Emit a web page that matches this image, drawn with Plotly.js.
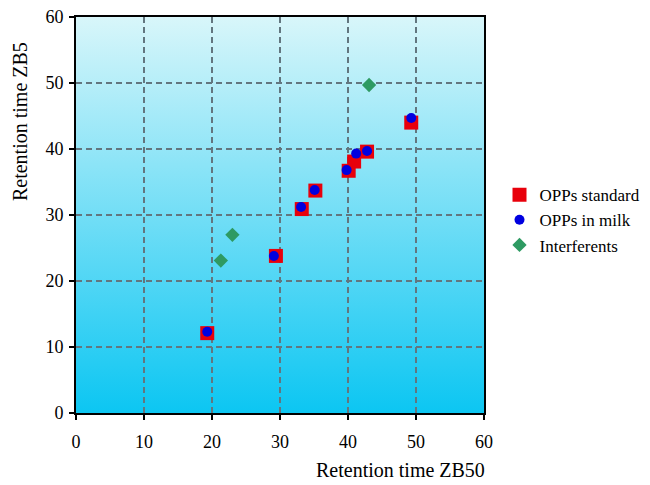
<!DOCTYPE html>
<html>
<head>
<meta charset="utf-8">
<script src="https://cdn.plot.ly/plotly-3.0.1.min.js"></script>
<style>html,body{margin:0;padding:0;background:#fff;}#chart{width:650px;height:485px;}</style>
</head>
<body>
<div id="chart"></div>
<script>
// OPPs standard
const stdX = [19.3, 29.4, 33.2, 35.2, 40.1, 40.9, 42.8, 49.3];
const stdY = [12.1, 23.8, 30.9, 33.7, 36.7, 38.1, 39.6, 44.0];
// OPPs in milk
const milkX = [19.3, 29.1, 33.1, 35.1, 39.8, 41.2, 42.8, 49.3];
const milkY = [12.3, 23.8, 31.2, 33.8, 36.8, 39.3, 39.7, 44.7];
// Interferents
const intX = [21.3, 23.0, 43.1];
const intY = [23.1, 27.0, 49.7];

const tickVals = [0, 10, 20, 30, 40, 50, 60];

const font = {family: '"Liberation Serif", "Times New Roman", serif', color: '#000'};

const gradSvg = '<svg xmlns="http://www.w3.org/2000/svg" width="100" height="100" preserveAspectRatio="none">' +
  '<defs><linearGradient id="g" x1="0" y1="0" x2="0" y2="1">' +
  '<stop offset="0" stop-color="#d8f6fa"/><stop offset="1" stop-color="#0cc6f2"/>' +
  '</linearGradient></defs><rect width="100" height="100" fill="url(#g)"/></svg>';
const gradUri = 'data:image/svg+xml;base64,' + btoa(gradSvg);

const traces = [
  {x: stdX, y: stdY, type: 'scatter', mode: 'markers', name: 'OPPs standard',
   marker: {symbol: 'square', size: 14, color: '#e8000b', line: {width: 0}}},
  {x: milkX, y: milkY, type: 'scatter', mode: 'markers', name: 'OPPs in milk',
   marker: {symbol: 'circle', size: 10, color: '#0000e0', line: {width: 0}}},
  {x: intX, y: intY, type: 'scatter', mode: 'markers', name: 'Interferents',
   marker: {symbol: 'diamond', size: 11, color: '#2e9a62', line: {width: 0}}}
];

const axisCommon = {
  range: [0, 60], tickvals: tickVals, ticktext: tickVals.map(String),
  showgrid: true, gridcolor: '#62767f', griddash: '6px,4px', gridwidth: 1.5,
  showline: true, linecolor: '#000', linewidth: 2, mirror: true,
  ticks: 'outside', ticklen: 5, tickwidth: 2, tickcolor: '#000',
  zeroline: false, fixedrange: true,
  tickfont: Object.assign({size: 18}, font)
};

const layout = {
  width: 650, height: 485,
  margin: {l: 76, r: 166, t: 17, b: 72, autoexpand: false},
  paper_bgcolor: '#ffffff', plot_bgcolor: 'rgba(0,0,0,0)',
  showlegend: true,
  legend: {x: 1.038, y: 0.487, xanchor: 'left', yanchor: 'middle',
           font: Object.assign({size: 17}, font), bgcolor: 'rgba(0,0,0,0)',
           itemwidth: 30},
  xaxis: Object.assign({}, axisCommon, {ticklabelstandoff: 6}),
  yaxis: Object.assign({}, axisCommon, {ticklabelstandoff: 2}),
  images: [{source: gradUri, xref: 'paper', yref: 'paper', x: 0, y: 1,
            sizex: 1, sizey: 1, sizing: 'stretch', layer: 'below',
            xanchor: 'left', yanchor: 'top'}],
  annotations: [
    {text: 'Retention time ZB50', xref: 'paper', yref: 'paper', x: 0.795, y: -0.144,
     xanchor: 'center', yanchor: 'middle', showarrow: false, font: Object.assign({size: 20}, font)},
    {text: 'Retention time ZB5', xref: 'paper', yref: 'paper', x: -0.137, y: 0.735,
     xanchor: 'center', yanchor: 'middle', textangle: -90, showarrow: false,
     font: Object.assign({size: 20}, font)}
  ]
};

Plotly.newPlot('chart', traces, layout, {displayModeBar: false, staticPlot: true});
</script>
</body>
</html>
